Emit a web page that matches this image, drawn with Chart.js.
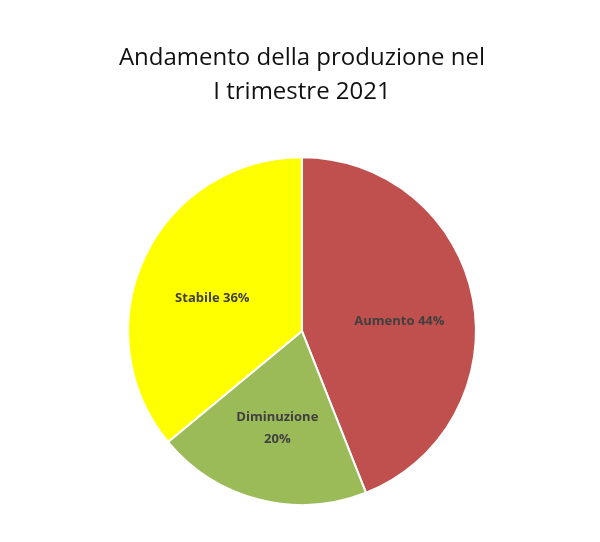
<!DOCTYPE html>
<html>
<head>
<meta charset="utf-8">
<script src="https://cdn.jsdelivr.net/npm/chart.js@4"></script>
<style>
  html, body { margin: 0; padding: 0; background: #fff; }
  #wrap { width: 600px; height: 542px; }
</style>
</head>
<body>
<div id="wrap"><canvas id="pie"></canvas></div>
<script>
// Data
const categories = ['Aumento', 'Diminuzione', 'Stabile'];
const shares = [44, 20, 36];
const sliceColors = ['#C0504D', '#9BBB59', '#FFFF00'];
const labelLines = [['Aumento 44%'], ['Diminuzione', '20%'], ['Stabile 36%']];

// draws the labels inside each slice, along its mid angle
const sliceLabels = {
  id: 'sliceLabels',
  afterDatasetsDraw(chart) {
    const ctx = chart.ctx;
    const meta = chart.getDatasetMeta(0);
    ctx.save();
    ctx.font = 'bold 13px "Open Sans"';
    ctx.fillStyle = '#404040';
    ctx.textAlign = 'center';
    ctx.textBaseline = 'middle';
    meta.data.forEach((arc, i) => {
      const mid = (arc.startAngle + arc.endAngle) / 2;
      const r = arc.outerRadius * 0.57;
      const lines = labelLines[i];
      const x = arc.x + Math.cos(mid) * r;
      // single-line labels sit a little lower, like the Excel original
      const y = arc.y + Math.sin(mid) * r + (lines.length === 1 ? 9 : 1);
      lines.forEach((t, j) => {
        ctx.fillText(t, x, y + (j - (lines.length - 1) / 2) * 22);
      });
    });
    ctx.restore();
  }
};

const ctx = document.getElementById('pie').getContext('2d');
new Chart(ctx, {
  type: 'pie',
  data: {
    labels: categories,
    datasets: [{
      data: shares,
      backgroundColor: sliceColors,
      borderColor: '#ffffff',
      borderWidth: 2
    }]
  },
  options: {
    responsive: true,
    maintainAspectRatio: false,
    animation: false,
    layout: { padding: { left: 4, right: 0, top: 0, bottom: 36 } },
    plugins: {
      legend: { display: false },
      tooltip: { enabled: false },
      title: {
        display: true,
        text: ['Andamento della produzione nel', 'I trimestre 2021'],
        color: '#111111',
        font: { family: 'Open Sans', size: 24, weight: 'normal', lineHeight: 1.42 },
        padding: { top: 41, bottom: 47 }
      }
    }
  },
  plugins: [sliceLabels]
});
</script>
</body>
</html>
